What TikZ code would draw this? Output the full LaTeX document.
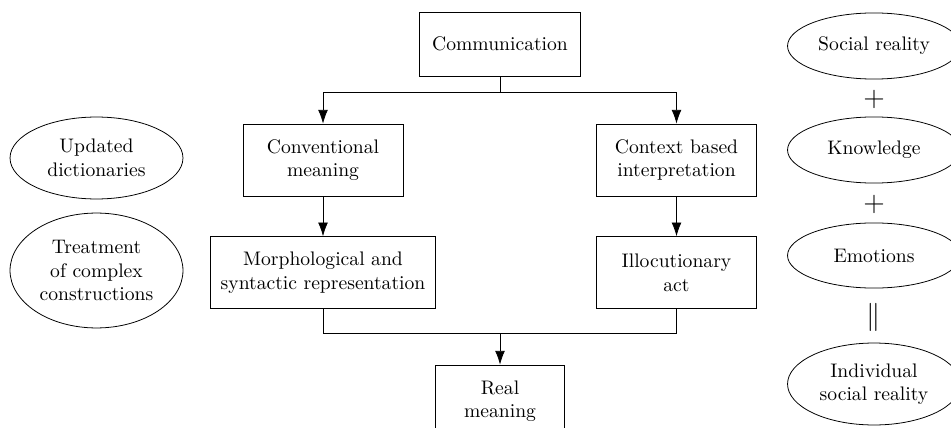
\documentclass[tikz,border=0pt]{standalone}
\usetikzlibrary{arrows.meta,shapes.geometric}
\tikzset{
  box/.style={draw, rectangle, align=center, inner sep=2pt, minimum height=36.7pt},
  oval/.style={draw, ellipse, align=center, inner sep=0pt, minimum width=88.2pt},
  sym/.style={inner sep=0pt, font=\Large},
  arr/.style={-{Latex[length=7pt,width=5pt]}},
}
\begin{document}
\begin{tikzpicture}[x=0.51pt,y=-0.51pt]
\useasboundingbox (0,0) rectangle (951,428);

% central flow
\node[box, minimum width=82.1pt, minimum height=32.6pt] (comm) at (500,44) {Communication};
\node[box, minimum width=81.6pt] (conv) at (323,160) {Conventional\\meaning};
\node[box, minimum width=81.6pt] (ctx) at (676.5,160) {Context based\\interpretation};
\node[box, minimum width=114.8pt] (morph) at (323,272.7) {Morphological and\\syntactic representation};
\node[box, minimum width=81.6pt] (illoc) at (676.5,272.7) {Illocutionary\\act};
\node[box, minimum width=65.8pt] (real) at (500,401) {Real\\meaning};

\coordinate (split) at (500,92);
\coordinate (join) at (500,333);

\draw (comm) -- (split);
\draw[arr] (split) -| (conv);
\draw[arr] (split) -| (ctx);
\draw[arr] (conv) -- (morph);
\draw[arr] (ctx) -- (illoc);
\draw (morph) |- (join);
\draw (illoc) |- (join);
\draw[arr] (join) -- (real);

% resources on the left
\node[oval, minimum height=41.8pt] (dict) at (96.5,158) {Updated\\dictionaries};
\node[oval, minimum height=58.6pt] (treat) at (96.5,270.5) {Treatment\\of complex\\constructions};

% components of social reality on the right
\node[oval, minimum height=33.7pt] (soc) at (874,46) {Social reality};
\node[sym] (p1) at (874,99) {$+$};
\node[oval, minimum height=33.7pt] (know) at (874,150) {Knowledge};
\node[sym] (p2) at (874,204) {$+$};
\node[oval, minimum height=33.2pt] (emo) at (874,255.5) {Emotions};
\node[sym] (eq) at (874,317) {$\|$};
\node[oval, minimum height=41.8pt] (indiv) at (874,384) {Individual\\social reality};
\end{tikzpicture}
\end{document}
